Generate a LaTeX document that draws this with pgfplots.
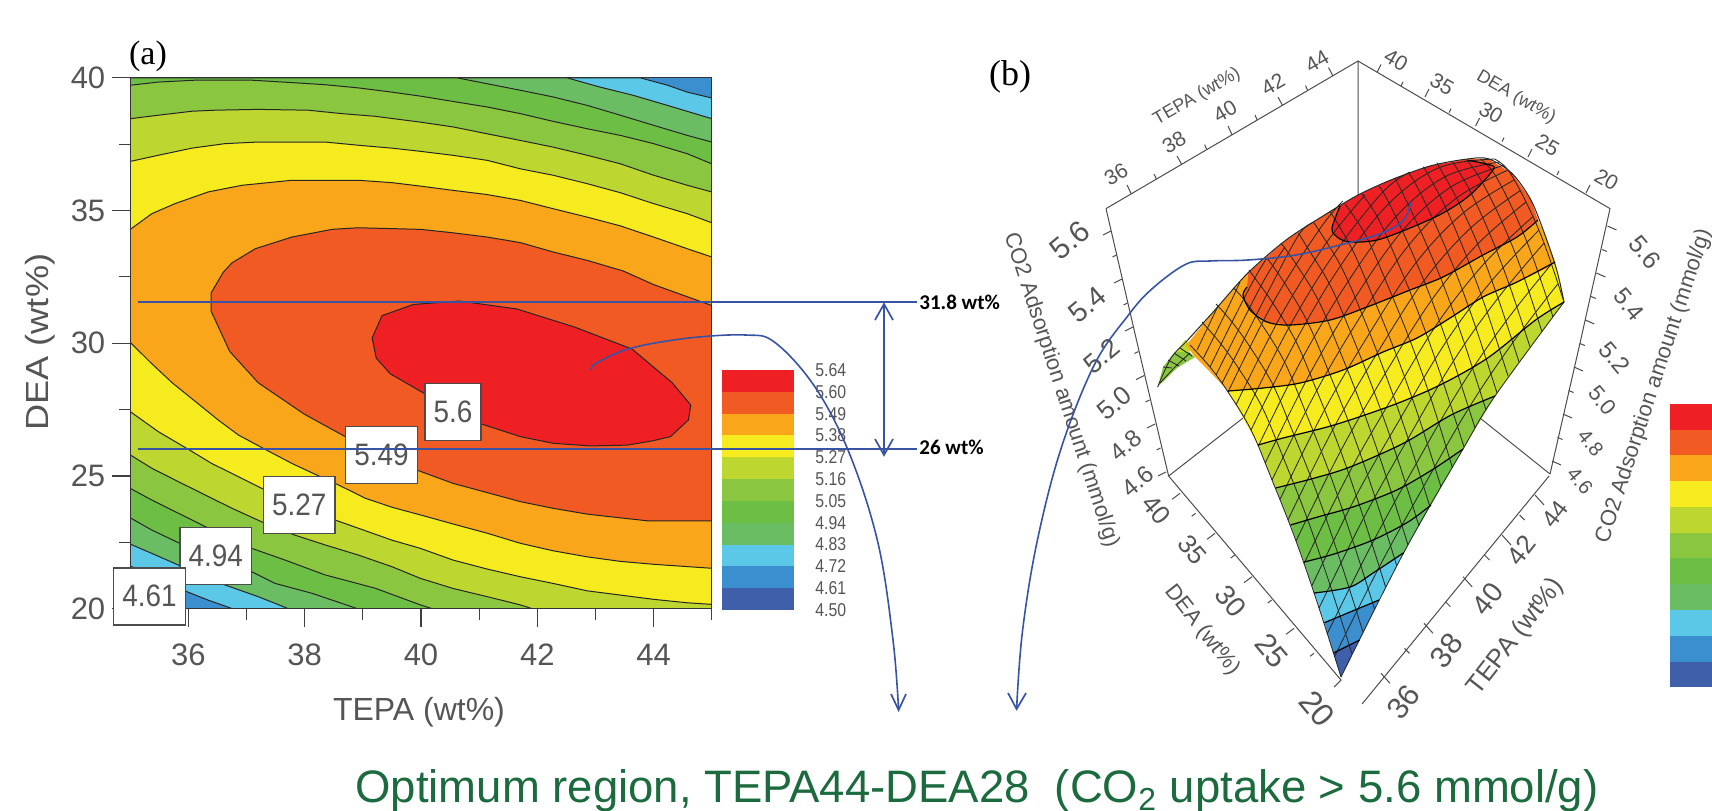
\documentclass[border=0pt]{standalone}
\usepackage{pgfplots}
\pgfplotsset{compat=1.18}
\usepackage{fontspec}
\setmainfont{Liberation Sans}
\newfontfamily\tnr{Liberation Serif}
\newfontfamily\carl{Carlito}
\definecolor{cA}{HTML}{EE2024}
\definecolor{cB}{HTML}{F15A22}
\definecolor{cC}{HTML}{FAA61A}
\definecolor{cD}{HTML}{F5EB1E}
\definecolor{cE}{HTML}{BDD630}
\definecolor{cF}{HTML}{8AC640}
\definecolor{cG}{HTML}{6DBE45}
\definecolor{cH}{HTML}{6BBD64}
\definecolor{cI}{HTML}{5CC8E8}
\definecolor{cJ}{HTML}{3C8FCE}
\definecolor{cK}{HTML}{3F5FAB}
\definecolor{arrow}{HTML}{3953A4}
\definecolor{txt}{HTML}{555555}
\definecolor{opt}{HTML}{1B6B3E}
\pgfplotsset{
  pix/.style={at={(0,-405pt)},anchor=south west,width=856pt,height=405pt,scale only axis,
    xmin=0,xmax=1712,ymin=0,ymax=810,y dir=reverse,hide axis,clip=false},
  msh/.style={no markers,black!85,line width=.42pt,smooth,tension=.6},
  ctr/.style={no markers,black,line width=.6pt,smooth,tension=.5},
  cage/.style={no markers,black!70,line width=.5pt,unbounded coords=jump},
  band/.style={no markers,fill=#1,draw=none},
  reg/.style={no markers,fill=#1,draw=black!85,line width=.5pt},
  blu/.style={no markers,arrow,line width=.85pt},
  curve/.style={no markers,arrow,line width=.8pt,smooth,tension=.6}
}
\begin{document}
\begin{tikzpicture}
\useasboundingbox (0,0) rectangle (856pt,-405pt);
% ------------------ panel (b)
\begin{axis}[pix]
\addplot[cage] coordinates {(1358,61)(1358,195)(nan,nan)(1106,208.6)(1358,61)(1610,208.6)(nan,nan)(1106,208.6)(1139,351)(1168.6,476)(nan,nan)(1610,208.6)(1580,343)(1550,474)(nan,nan)(1168.6,476)(1243,418)(nan,nan)(1550,474)(1480,418)(nan,nan)(1168.6,476)(1341,680)(1334,687)(nan,nan)(1549,476)(1362,704)};
% ticks
\addplot[cage] coordinates {(1131.2,193.8)(1127,185)(nan,nan)(1156.4,179.1)(1154,174)(nan,nan)(1181.6,164.3)(1177,156)(nan,nan)(1206.8,149.6)(1204.6,144.6)(nan,nan)(1232,134.8)(1228,126)(nan,nan)(1257.2,120)(1255,115)(nan,nan)(1282.4,105.3)(1278,97)(nan,nan)(1307.6,90.5)(1305.5,85.5)(nan,nan)(1332.8,75.8)(1328.5,67.5)};
\addplot[cage] coordinates {(1377,72.4)(1381,64.4)(nan,nan)(1401,85.8)(1403,81.8)(nan,nan)(1425,97)(1429,89)(nan,nan)(1449,112.6)(1451,108.6)(nan,nan)(1475.6,126)(1479.6,118)(nan,nan)(1502,141.6)(1504,137.6)(nan,nan)(1528,157)(1532,149)(nan,nan)(1557,175)(1559,171)(nan,nan)(1586,193)(1590,185)};
\addplot[cage] coordinates {(1180,493.3)(1172,499.3)(nan,nan)(1195.6,513.3)(1191.6,516.3)(nan,nan)(1215,533.3)(1207,539.3)(nan,nan)(1234.7,555)(1230.7,558)(nan,nan)(1252,576.7)(1244,582.7)(nan,nan)(1271.7,600)(1267.7,603)(nan,nan)(1294,628.3)(1286,634.3)(nan,nan)(1314,653.3)(1310,656.3)};
\addplot[cage] coordinates {(1381,673.3)(1390,683.3)(nan,nan)(1404.4,648.3)(1409.4,653.3)(nan,nan)(1424,623.3)(1433,633.3)(nan,nan)(1445.4,601.7)(1450.4,606.7)(nan,nan)(1463,576.7)(1472,586.7)(nan,nan)(1484.5,555)(1489.5,560)(nan,nan)(1502,535)(1511,545)(nan,nan)(1519.6,515)(1524.6,520)(nan,nan)(1535,495)(1544,505)};
\addplot[cage] coordinates {(1111,231)(1103,235)(nan,nan)(1116.5,255)(1112.5,257)(nan,nan)(1122,279)(1114,283)(nan,nan)(1127.5,303)(1123.5,305)(nan,nan)(1133,327)(1125,331)(nan,nan)(1138.5,351.5)(1134.5,353.5)(nan,nan)(1144,375.6)(1136,379.6)(nan,nan)(1149.5,400)(1145.5,402)(nan,nan)(1155,424)(1147,428)(nan,nan)(1160.5,448)(1156.5,450)(nan,nan)(1166,472)(1158,476)};
\addplot[cage] coordinates {(1607.5,226)(1616.5,230)(nan,nan)(1602,249.5)(1607,251.5)(nan,nan)(1596.4,273)(1605.4,277)(nan,nan)(1591,296.5)(1596,298.5)(nan,nan)(1585.3,320)(1594.3,324)(nan,nan)(1579.8,343.5)(1584.8,345.5)(nan,nan)(1574,367)(1583,371)(nan,nan)(1568.6,390.5)(1573.6,392.5)(nan,nan)(1563,414)(1572,418)(nan,nan)(1557.5,437.5)(1562.5,439.5)(nan,nan)(1552,461)(1561,465)};
% flap
\addplot[band=cF] coordinates {(1157.6,387)(1163,367)(1173,354)(1183,347)(1195,357)(1177,368)} --cycle;
\addplot[band=cE] coordinates {(1176,352)(1185,340)(1195,350)(1187,352)} --cycle;
\addplot[msh] coordinates {(1157.6,387)(1171,358)(1185,343)};
\addplot[msh] coordinates {(1160,383)(1176,366)(1190,353)};
\addplot[msh] coordinates {(1163,367)(1172,368)};
\addplot[msh] coordinates {(1168,360)(1179,366)};
\addplot[msh] coordinates {(1174,353)(1186,361)};
\addplot[msh] coordinates {(1180,348)(1192,356)};
% surface bands
\addplot[band=cK] coordinates {(1341,677)(1359.6,640)(1333.4,653)} --cycle;
\addplot[band=cJ] coordinates {(1333.4,653)(1359.6,640)(1379,600)(1350,612)(1324.4,622.7)} --cycle;
\addplot[band=cI] coordinates {(1324.4,622.7)(1350,612)(1379,600)(1403.7,552.7)(1373,573)(1350,587)(1314,593)} --cycle;
\addplot[band=cH] coordinates {(1314,593)(1350,587)(1373,573)(1403.7,552.7)(1431,505)(1408,522)(1373,540)(1334,554)(1304,562)} --cycle;
\addplot[band=cG] coordinates {(1304,562)(1334,554)(1373,540)(1408,522)(1431,505)(1463,449)(1431.8,470)(1396.7,490)(1353.7,506.7)(1318.6,516.7)(1290.5,525)} --cycle;
\addplot[band=cF] coordinates {(1290.5,525)(1318.6,516.7)(1353.7,506.7)(1396.7,490)(1431.8,470)(1463,449)(1495,396)(1451,415)(1404,443)(1350,467)(1314.7,478)(1275.6,488)} --cycle;
\addplot[band=cE] coordinates {(1275.6,488)(1314.7,478)(1350,467)(1404,443)(1451,415)(1495,396)(1564,302)(1535.5,320)(1487.6,358)(1440,385)(1393,405)(1334,425)(1283,438)(1258,445)} --cycle;
\addplot[band=cD] coordinates {(1258,445)(1283,438)(1334,425)(1393,405)(1440,385)(1487.6,358)(1535.5,320)(1564,302)(1557,271)(1555,262)(1550,267)(1517,282)(1483,297)(1450,318)(1417,338)(1383,352)(1343,370)(1300,383)(1263,388)(1228,391)} --cycle;
\addplot[band=cC] coordinates {(1228,391)(1263,388)(1300,383)(1343,370)(1383,352)(1417,338)(1450,318)(1483,297)(1517,282)(1550,267)(1555,262)(1545,235)(1538,220)(1517,237)(1483,255)(1443,277)(1410,290)(1367,307)(1330,320)(1290,325)(1267,322)(1250,310)(1243,295)(1247,287)(1247.8,273)(1214,311)(1192,338)(1186,345)(1195,357)(1210,372)} --cycle;
\addplot[band=cB] coordinates {(1247,287)(1243,295)(1250,310)(1267,322)(1290,325)(1330,320)(1367,307)(1410,290)(1443,277)(1483,255)(1517,237)(1538,220)(1530.7,199.6)(1511.6,173)(1487.6,158.6)(1463.6,159.5)(1430,166)(1391.7,179.6)(1358,195)(1324.5,215)(1286,240)(1247.8,273)} --cycle;
\addplot[band=cA] coordinates {(1332,228)(1337,237)(1350,242)(1377,240)(1410,228)(1443,213)(1470,195)(1493,170)(1490,165)(1467,160)(1430,166)(1391.7,179.6)(1358,195)(1340,206)} --cycle;
% mesh: constant TEPA
\addplot[msh] coordinates {(1341,677)(1319,608)(1296,541)(1272,480)(1251,430)(1228,392)(1210,367)(1190,345)};
\addplot[msh] coordinates {(1352,654)(1330,585)(1307,518)(1283,457)(1262,407)(1239,369)(1221,344)(1202,322)};
\addplot[msh] coordinates {(1363,632)(1341,563)(1318,496)(1294,435)(1273,385)(1250,347)(1232,322)(1216,304)};
\addplot[msh] coordinates {(1374.5,609)(1352.5,540)(1329.5,473)(1305.5,412)(1284.5,362)(1261.5,324)(1243.5,299)(1233.5,288)};
\addplot[msh] coordinates {(1385.6,587)(1363.6,518)(1340.6,451)(1316.7,390.5)(1295.7,341)(1272.8,303)(1254.8,278)(1249,270)};
\addplot[msh] coordinates {(1396.8,566)(1375,497)(1352,431)(1328,370)(1307,321)(1284.5,283)(1267,258)};
\addplot[msh] coordinates {(1408,545)(1386,476)(1363,410)(1339.4,350)(1318.6,301)(1296,264)(1281,243)};
\addplot[msh] coordinates {(1419,526)(1397,457)(1374,391.5)(1350.5,332)(1330,285)(1307,247)(1298.5,233)};
\addplot[msh] coordinates {(1430,507)(1408,438)(1385,373)(1362,314)(1341.3,267)(1319,230.4)(1313,222)};
\addplot[msh] coordinates {(1441,487)(1419,418)(1396,354)(1372.5,296)(1352,249)(1330.4,212)};
\addplot[msh] coordinates {(1452.5,468)(1431,399)(1408.5,336.5)(1385,279)(1365,234)(1345,204)};
\addplot[msh] coordinates {(1464,447)(1442.3,379.7)(1420,317)(1397,260.6)(1377.4,217)(1362,194)};
\addplot[msh] coordinates {(1475,428)(1453.4,361)(1431.6,300)(1408.8,245)(1389,203)(1379,186)};
\addplot[msh] coordinates {(1486,410)(1464.6,344)(1443,284)(1420.5,231)(1401.7,191.3)(1395,178)};
\addplot[msh] coordinates {(1497,393)(1475.7,327.4)(1454.5,269.4)(1432.4,218)(1414,181)(1408,173)};
\addplot[msh] coordinates {(1508,376)(1486.8,311)(1466,255)(1444.4,205)(1426.6,172)(1423,167)};
\addplot[msh] coordinates {(1519,362)(1498,298)(1477.7,244)(1456.5,198)(1439.5,167.5)(1438,164)};
\addplot[msh] coordinates {(1530,347)(1509,284)(1489.4,233)(1469,189)(1452.6,162)};
\addplot[msh] coordinates {(1542,332)(1521.5,270)(1502,222)(1482,182)(1467,160)};
\addplot[msh] coordinates {(1553,317)(1532.7,257)(1514,212)(1495,175)(1480.7,159)};
\addplot[msh] coordinates {(1564,302)(1544,243)(1526,202)(1508,170)(1494.6,159)};
% mesh: constant DEA
\addplot[msh] coordinates {(1341,677)(1403.7,552.7)(1463,449)(1495,396)(1564,302)};
\addplot[msh] coordinates {(1334.3,657)(1379.2,567)(1423.3,487)(1468.3,408.7)(1512.5,343)(1557.7,284)};
\addplot[msh] coordinates {(1327,634)(1371.9,544)(1416,464)(1461.1,386.3)(1505.5,321.7)(1551.2,264.3)};
\addplot[msh] coordinates {(1319,608)(1363.6,518)(1408,438.6)(1453.4,361)(1498,298)(1544,243)};
\addplot[msh] coordinates {(1311.7,586)(1356,496)(1401,417.2)(1446.5,341)(1491.7,280.7)(1538.7,230.3)};
\addplot[msh] coordinates {(1304,563.7)(1348.6,473.7)(1393.6,395.3)(1439.2,320.7)(1484.9,262.7)(1532.7,216.7)};
\addplot[msh] coordinates {(1296,541)(1340.6,451)(1385.5,373)(1431.6,300)(1477.7,244)(1526,202)};
\addplot[msh] coordinates {(1288,519.7)(1332.7,429.7)(1377.6,352.3)(1423.9,280.7)(1470.6,228)(1520,190.7)};
\addplot[msh] coordinates {(1280,499.3)(1324.7,409.5)(1369.8,332.7)(1416.3,262.3)(1463.5,212.7)(1514,180)};
\addplot[msh] coordinates {(1272,480)(1316.7,390.5)(1362,314)(1408.8,245)(1456.5,198)(1508,170)};
\addplot[msh] coordinates {(1265.3,462.7)(1310,373.5)(1355.3,297.3)(1402.7,230.3)(1451.2,186.7)(1503.7,165.3)};
\addplot[msh] coordinates {(1258.3,446)(1303,357)(1348.3,281)(1396.2,216.3)(1445.5,176.5)(1499.3,162)};
\addplot[msh] coordinates {(1251,430)(1295.7,341)(1341,265)(1389.4,203)(1439.5,167.5)(1494.6,159)};
\addplot[msh] coordinates {(1243.7,417.3)(1288.5,328.3)(1334,254)(1382.5,192.3)(1410,172)};
\addplot[msh] coordinates {(1236,404.7)(1280.9,315.7)(1326.7,242.3)(1365,195)};
\addplot[msh] coordinates {(1228,392)(1272.8,303)(1319,230)(1342.8,201)};
\addplot[msh] coordinates {(1222,383.3)(1266.8,294.3)(1298,236)(1312,223)};
\addplot[msh] coordinates {(1216,375)(1260.8,286)(1285,247)};
\addplot[msh] coordinates {(1210,367)(1232,322)(1254.8,278)(1267,258)};
\addplot[msh] coordinates {(1203.3,358.3)(1225.3,313.3)(1240,282)};
\addplot[msh] coordinates {(1197,350)(1218,306)};
% outline
\addplot[no markers,black!85,line width=.5pt,smooth,tension=.5] coordinates {(1185.4,342.5)(1214,311)(1247.8,273)(1286,240)(1324.5,215)(1358,195)(1391.7,179.6)(1430,166)(1463.6,159.5)(1487.6,158.6)(1511.6,173)(1530.7,199.6)(1545,235)(1557,271)(1564,302)};
% contours
\addplot[ctr] coordinates {(1333.4,653)(1359.6,640)};
\addplot[ctr] coordinates {(1324.4,622.7)(1350,612)(1379,600)};
\addplot[ctr] coordinates {(1314,593)(1350,587)(1373,573)(1403.7,552.7)};
\addplot[ctr] coordinates {(1304,562)(1334,554)(1373,540)(1408,522)(1431,505)};
\addplot[ctr] coordinates {(1290.5,525)(1318.6,516.7)(1353.7,506.7)(1396.7,490)(1431.8,470)(1463,449)};
\addplot[ctr] coordinates {(1275.6,488)(1314.7,478)(1350,467)(1404,443)(1451,415)(1495,396)};
\addplot[ctr] coordinates {(1258,445)(1283,438)(1334,425)(1393,405)(1440,385)(1487.6,358)(1535.5,320)(1564,302)};
\addplot[ctr] coordinates {(1228,391)(1263,388)(1300,383)(1343,370)(1383,352)(1417,338)(1450,318)(1483,297)(1517,282)(1555,262)};
\addplot[ctr] coordinates {(1247,287)(1243,295)(1250,310)(1267,322)(1290,325)(1330,320)(1367,307)(1410,290)(1443,277)(1483,255)(1517,237)(1538,220)};
\addplot[ctr] coordinates {(1340,206)(1332,228)(1337,237)(1350,242)(1377,240)(1410,228)(1443,213)(1470,195)(1493,170)(1490,165)(1467,160)};
% colour bar (b)
\addplot[band=cA] coordinates {(1669.5,403.5)(1712,403.5)(1712,430)(1669.5,430)} --cycle;
\addplot[band=cB] coordinates {(1669.5,430)(1712,430)(1712,455)(1669.5,455)} --cycle;
\addplot[band=cC] coordinates {(1669.5,455)(1712,455)(1712,481)(1669.5,481)} --cycle;
\addplot[band=cD] coordinates {(1669.5,481)(1712,481)(1712,507)(1669.5,507)} --cycle;
\addplot[band=cE] coordinates {(1669.5,507)(1712,507)(1712,533)(1669.5,533)} --cycle;
\addplot[band=cF] coordinates {(1669.5,533)(1712,533)(1712,558)(1669.5,558)} --cycle;
\addplot[band=cG] coordinates {(1669.5,558)(1712,558)(1712,584)(1669.5,584)} --cycle;
\addplot[band=cH] coordinates {(1669.5,584)(1712,584)(1712,610)(1669.5,610)} --cycle;
\addplot[band=cI] coordinates {(1669.5,610)(1712,610)(1712,636)(1669.5,636)} --cycle;
\addplot[band=cJ] coordinates {(1669.5,636)(1712,636)(1712,662)(1669.5,662)} --cycle;
\addplot[band=cK] coordinates {(1669.5,662)(1712,662)(1712,687)(1669.5,687)} --cycle;
% 3D labels
\begin{scope}[every node/.style={text=txt,font=\fontsize{10.5pt}{12pt}\selectfont,inner sep=0pt}]
\node[rotate=30] at (axis cs:1116,174) {36};
\node[rotate=30] at (axis cs:1174,142) {38};
\node[rotate=30] at (axis cs:1225,111) {40};
\node[rotate=30] at (axis cs:1273,84.5) {42};
\node[rotate=30] at (axis cs:1317,61) {44};
\node[rotate=30,font=\fontsize{9pt}{11pt}\selectfont] at (axis cs:1197,97) {TEPA (wt\%)};
\node[rotate=-30] at (axis cs:1396,60) {40};
\node[rotate=-30] at (axis cs:1442,84.5) {35};
\node[rotate=-30] at (axis cs:1491,112.6) {30};
\node[rotate=-30] at (axis cs:1547.5,145) {25};
\node[rotate=-30] at (axis cs:1606.5,179.6) {20};
\node[rotate=-30,font=\fontsize{9pt}{11pt}\selectfont] at (axis cs:1516,97) {DEA (wt\%)};
\node[rotate=40,font=\fontsize{15pt}{17pt}\selectfont] at (axis cs:1070,240) {5.6};
\node[rotate=40,font=\fontsize{14pt}{17pt}\selectfont] at (axis cs:1087,304.5) {5.4};
\node[rotate=40,font=\fontsize{13.5pt}{17pt}\selectfont] at (axis cs:1101.5,356) {5.2};
\node[rotate=40,font=\fontsize{13pt}{17pt}\selectfont] at (axis cs:1114.4,403) {5.0};
\node[rotate=40,font=\fontsize{12pt}{17pt}\selectfont] at (axis cs:1125.5,445) {4.8};
\node[rotate=40,font=\fontsize{12pt}{17pt}\selectfont] at (axis cs:1137.5,481) {4.6};
\node[rotate=-71.8,font=\fontsize{11pt}{13pt}\selectfont] at (axis cs:1061,390) {CO2 Adsorption amount (mmol/g)};
\node[rotate=-50,font=\fontsize{12.5pt}{15pt}\selectfont] at (axis cs:1645,252) {5.6};
\node[rotate=-50,font=\fontsize{12pt}{15pt}\selectfont] at (axis cs:1629,304.5) {5.4};
\node[rotate=-50,font=\fontsize{12pt}{15pt}\selectfont] at (axis cs:1614.7,358) {5.2};
\node[rotate=-50,font=\fontsize{11pt}{15pt}\selectfont] at (axis cs:1602.7,400.5) {5.0};
\node[rotate=-50,font=\fontsize{10pt}{15pt}\selectfont] at (axis cs:1590.7,443) {4.8};
\node[rotate=-50,font=\fontsize{10pt}{15pt}\selectfont] at (axis cs:1580,481) {4.6};
\node[rotate=71.8,font=\fontsize{11pt}{13pt}\selectfont] at (axis cs:1654,386) {CO2 Adsorption amount (mmol/g)};
\node[rotate=-50,font=\fontsize{13pt}{15pt}\selectfont] at (axis cs:1156.6,510) {40};
\node[rotate=-50,font=\fontsize{13pt}{15pt}\selectfont] at (axis cs:1192.6,550) {35};
\node[rotate=-50,font=\fontsize{14pt}{15pt}\selectfont] at (axis cs:1231,601) {30};
\node[rotate=-50,font=\fontsize{15pt}{15pt}\selectfont] at (axis cs:1271.7,650.5) {25};
\node[rotate=-50,font=\fontsize{16pt}{18pt}\selectfont] at (axis cs:1317.3,708.6) {20};
\node[rotate=-52,font=\fontsize{11pt}{13pt}\selectfont] at (axis cs:1202,630) {DEA (wt\%)};
\node[rotate=52,font=\fontsize{15pt}{15pt}\selectfont] at (axis cs:1403.6,702) {36};
\node[rotate=52,font=\fontsize{15pt}{15pt}\selectfont] at (axis cs:1446.8,650.5) {38};
\node[rotate=52,font=\fontsize{14pt}{15pt}\selectfont] at (axis cs:1487.6,599) {40};
\node[rotate=52,font=\fontsize{13pt}{15pt}\selectfont] at (axis cs:1521,550) {42};
\node[rotate=52,font=\fontsize{12pt}{15pt}\selectfont] at (axis cs:1554.7,514) {44};
\node[rotate=52,font=\fontsize{13pt}{15pt}\selectfont] at (axis cs:1516,637) {TEPA (wt\%)};
\end{scope}
\end{axis}
% ------------------ panel (a)
\begin{axis}[at={(65.15pt,-304.3pt)},anchor=south west,width=290.7pt,height=265.4pt,scale only axis,
  xmin=35,xmax=45,ymin=20,ymax=40,axis on top,
  xtick={36,38,40,42,44},minor xtick={35,37,39,41,43,45},
  ytick={20,25,30,35,40},minor ytick={22.5,27.5,32.5,37.5},
  tick align=outside,xtick pos=bottom,ytick pos=left,
  major tick length=9pt,minor tick length=5.5pt,
  every tick/.style={black!75,line width=.6pt},
  axis line style={black!80,line width=.6pt},
  /pgf/number format/assume math mode=true,
  ticklabel style={font=\fontsize{15.5pt}{17pt}\selectfont,text=txt},
  xticklabel style={yshift=-5pt},
  xlabel={TEPA (wt\%)},ylabel={\scalebox{1.13}[1]{DEA (wt\%)}},
  label style={font=\fontsize{16pt}{18pt}\selectfont,text=txt},
  x label style={at={(axis description cs:.4965,-.196)},anchor=center},
  y label style={at={(axis description cs:-.155,.502)},anchor=center}]
\addplot[no markers,fill=cJ,draw=none] coordinates {(35,20)(45,20)(45,40)(35,40)} --cycle;
\addplot[reg=cI] coordinates {(35,40)(43.77,40)(44.24,39.72)(44.58,39.46)(45,39.24)(45,20)(36.75,20)(36.69,20.05)(36.34,20.32)(35.97,20.64)(35.51,21.15)(35,21.6)} --cycle;
\addplot[reg=cH] coordinates {(35,40)(42.51,40)(43.08,39.65)(43.65,39.34)(44.24,38.96)(45,38.46)(45,20)(37.71,20)(37.66,20.05)(37.2,20.45)(36.63,20.89)(35.83,21.64)(35.37,22.08)(35,22.43)} --cycle;
\addplot[reg=cG] coordinates {(35,40)(40.62,40)(41.13,39.78)(41.71,39.53)(42.27,39.28)(42.86,38.96)(43.43,38.59)(44,38.21)(44.58,37.83)(45,37.58)(45,20)(38.9,20)(38.81,20.07)(38.12,20.58)(37.49,20.95)(37.09,21.39)(35.83,22.48)(35.37,22.96)(35,23.42)} --cycle;
\addplot[reg=cF] coordinates {(35,39.72)(35.48,39.84)(36.11,39.91)(37.09,39.91)(37.78,39.82)(38.35,39.74)(38.92,39.62)(39.5,39.46)(39.99,39.31)(40.55,39.11)(41.14,38.9)(41.71,38.65)(42.27,38.36)(42.86,38.08)(43.43,37.83)(44,37.52)(44.58,37.14)(45,36.76)(45,20)(40.19,20)(39.99,20.14)(39.21,20.77)(38.35,21.27)(37.66,21.83)(37.09,22.27)(36.29,23.09)(35.83,23.59)(35.37,24.09)(35,24.53)} --cycle;
\addplot[reg=cE] coordinates {(35,38.46)(35.48,38.59)(36.06,38.74)(36.46,38.78)(37.2,38.81)(38.06,38.78)(38.64,38.65)(39.21,38.55)(39.99,38.33)(40.55,38.15)(41.14,37.89)(41.71,37.64)(42.27,37.39)(42.86,37.08)(43.43,36.76)(44,36.33)(44.58,35.95)(45,35.7)(45,20)(41.91,20)(41.71,20.14)(41.14,20.45)(40.55,20.76)(39.99,21.14)(39.5,21.58)(38.92,22.02)(38.35,22.4)(37.83,22.77)(37.26,23.27)(36.75,23.78)(36.29,24.28)(35.83,24.78)(35.37,25.29)(35,25.79)} --cycle;
\addplot[reg=cD] coordinates {(35,36.85)(35.48,37.08)(36.06,37.35)(36.63,37.52)(37.2,37.58)(38.35,37.58)(38.92,37.46)(39.5,37.35)(39.99,37.23)(40.55,37.08)(41.14,36.89)(41.71,36.57)(42.27,36.33)(42.86,36.01)(43.43,35.67)(44,35.26)(44.58,34.88)(45,34.54)(45,20.16)(44.58,20.22)(44,20.35)(43.43,20.51)(42.86,20.67)(42.27,20.95)(41.71,21.2)(41.14,21.49)(40.55,21.83)(39.99,22.27)(39.5,22.58)(38.92,23.03)(38.52,23.34)(37.26,24.53)(36.86,24.97)(36.4,25.47)(36,26)(35.48,26.67)(35.2,27.11)(35,27.42)} --cycle;
\addplot[reg=cC] coordinates {(35,34.29)(35.37,34.88)(35.77,35.26)(36.34,35.7)(36.92,35.95)(37.78,36.14)(38.92,36.14)(39.5,36.05)(39.99,35.92)(40.55,35.76)(41.14,35.6)(41.71,35.38)(42.27,35.07)(42.86,34.75)(43.43,34.42)(44,34)(44.58,33.56)(45,33.25)(45,21.52)(44,21.67)(43.43,21.78)(42.86,21.95)(42.27,22.18)(41.71,22.46)(41.14,22.84)(40.55,23.19)(39.99,23.53)(39.5,23.82)(39.04,24.16)(38.58,24.66)(38.21,25.03)(37.78,25.47)(37.32,26)(36.86,26.54)(36.51,27.11)(36.11,27.82)(35.72,28.51)(35.34,29.29)(35,30.03)} --cycle;
\addplot[reg=cB] coordinates {(45,31.42)(44,32.21)(43.48,32.72)(42.86,33.12)(42.27,33.44)(41.71,33.79)(41.14,34)(40.55,34.16)(39.99,34.29)(38.92,34.35)(38.47,34.29)(37.78,34)(37.15,33.56)(36.75,33.03)(36.6,32.68)(36.39,31.89)(36.39,31.21)(36.71,29.69)(37.2,28.51)(37.99,27.33)(38.68,26.5)(39.93,25.22)(40.55,24.72)(41.14,24.37)(41.71,24.03)(42.27,23.78)(42.86,23.56)(43.43,23.42)(43.89,23.31)(45,23.31)} --cycle;
\addplot[reg=cA] coordinates {(39.16,30.2)(39.33,31.04)(39.87,31.46)(40.66,31.59)(41.65,31.29)(42.64,30.61)(43.63,29.78)(44.32,28.51)(44.64,27.67)(44.6,27.11)(44.29,26.48)(44,26.33)(43.55,26.16)(42.91,26.13)(42.27,26.23)(41.71,26.48)(41.05,26.95)(40.07,28.09)(39.47,28.85)(39.23,29.44)} --cycle;
\end{axis}
% ------------------ overlay
\begin{axis}[pix]
% colour bar (a)
\addplot[band=cA] coordinates {(721.7,370)(793.7,370)(793.7,391.8)(721.7,391.8)} --cycle;
\addplot[band=cB] coordinates {(721.7,391.8)(793.7,391.8)(793.7,413.6)(721.7,413.6)} --cycle;
\addplot[band=cC] coordinates {(721.7,413.6)(793.7,413.6)(793.7,435.4)(721.7,435.4)} --cycle;
\addplot[band=cD] coordinates {(721.7,435.4)(793.7,435.4)(793.7,457.3)(721.7,457.3)} --cycle;
\addplot[band=cE] coordinates {(721.7,457.3)(793.7,457.3)(793.7,479.1)(721.7,479.1)} --cycle;
\addplot[band=cF] coordinates {(721.7,479.1)(793.7,479.1)(793.7,500.9)(721.7,500.9)} --cycle;
\addplot[band=cG] coordinates {(721.7,500.9)(793.7,500.9)(793.7,522.7)(721.7,522.7)} --cycle;
\addplot[band=cH] coordinates {(721.7,522.7)(793.7,522.7)(793.7,544.5)(721.7,544.5)} --cycle;
\addplot[band=cI] coordinates {(721.7,544.5)(793.7,544.5)(793.7,566.4)(721.7,566.4)} --cycle;
\addplot[band=cJ] coordinates {(721.7,566.4)(793.7,566.4)(793.7,588.2)(721.7,588.2)} --cycle;
\addplot[band=cK] coordinates {(721.7,588.2)(793.7,588.2)(793.7,610)(721.7,610)} --cycle;
\begin{scope}[every node/.style={text=txt,font=\fontsize{9.3pt}{11pt}\selectfont,inner sep=0pt}]
\node at (axis cs:830.7,370) {\scalebox{.85}[1]{5.64}};
\node at (axis cs:830.7,391.8) {\scalebox{.85}[1]{5.60}};
\node at (axis cs:830.7,413.6) {\scalebox{.85}[1]{5.49}};
\node at (axis cs:830.7,435.4) {\scalebox{.85}[1]{5.38}};
\node at (axis cs:830.7,457.3) {\scalebox{.85}[1]{5.27}};
\node at (axis cs:830.7,479.1) {\scalebox{.85}[1]{5.16}};
\node at (axis cs:830.7,500.9) {\scalebox{.85}[1]{5.05}};
\node at (axis cs:830.7,522.7) {\scalebox{.85}[1]{4.94}};
\node at (axis cs:830.7,544.5) {\scalebox{.85}[1]{4.83}};
\node at (axis cs:830.7,566.4) {\scalebox{.85}[1]{4.72}};
\node at (axis cs:830.7,588.2) {\scalebox{.85}[1]{4.61}};
\node at (axis cs:830.7,610) {\scalebox{.85}[1]{4.50}};
\end{scope}
% contour label boxes
\begin{scope}[every node/.style={draw=black!70,fill=white,line width=.7pt,text=txt,inner sep=0pt,font=\fontsize{15.5pt}{17pt}\selectfont,minimum height=28.5pt}]
\node[minimum width=28pt] at (axis cs:452.9,412) {\scalebox{.9}[1]{5.6}};
\node[minimum width=35.8pt] at (axis cs:381.5,454.8) {\scalebox{.9}[1]{5.49}};
\node[minimum width=35.8pt] at (axis cs:299.3,505) {\scalebox{.9}[1]{5.27}};
\node[minimum width=35.8pt] at (axis cs:215.7,555.7) {\scalebox{.9}[1]{4.94}};
\node[minimum width=35.8pt] at (axis cs:149.5,596.3) {\scalebox{.9}[1]{4.61}};
\end{scope}
% blue annotation
\addplot[blu] coordinates {(138,302.3)(917,302.3)};
\addplot[blu] coordinates {(138,448.8)(917,448.8)};
\addplot[blu] coordinates {(884,304)(884,455)};
\addplot[blu] coordinates {(875,320)(884,304)(893,320)};
\addplot[blu] coordinates {(875,439)(884,455)(893,439)};
\addplot[curve] coordinates {(591,370)(597,362.6)(631.5,348)(689,338)(746,335)(775,342.5)(815,387)(849.6,454)(878,543)(893,640)(898.6,710)};
\addplot[blu] coordinates {(891,694)(898.6,710)(906,694)};
\addplot[curve] coordinates {(1411,202)(1403.6,220)(1382,233)(1343.7,244)(1295.7,255)(1247.8,260)(1209.4,261)(1185.4,264.4)(1151.8,289)(1127.9,315.7)(1094.3,364.8)(1060.7,449.6)(1036.7,543.4)(1022.3,632.7)(1016.6,708.6)};
\addplot[blu] coordinates {(1008,693)(1016.6,709)(1026,693)};
\node[anchor=west,inner sep=0pt,font=\carl\bfseries\fontsize{10.5pt}{12pt}\selectfont] at (axis cs:919,302) {31.8 wt\%};
\node[anchor=west,inner sep=0pt,font=\carl\bfseries\fontsize{10.5pt}{12pt}\selectfont] at (axis cs:919,447) {26 wt\%};
\node[inner sep=0pt,font=\tnr\fontsize{17pt}{19pt}\selectfont] at (axis cs:148,56) {(a)};
\node[inner sep=0pt,font=\tnr\fontsize{18pt}{20pt}\selectfont] at (axis cs:1010,77) {(b)};
\node[anchor=west,inner sep=0pt,text=opt,font=\fontsize{22.75pt}{25pt}\selectfont] at (axis cs:355,791) {Optimum region, TEPA44-DEA28 \ (CO\textsubscript{2} uptake > 5.6 mmol/g)};
\end{axis}
\end{tikzpicture}
\end{document}
